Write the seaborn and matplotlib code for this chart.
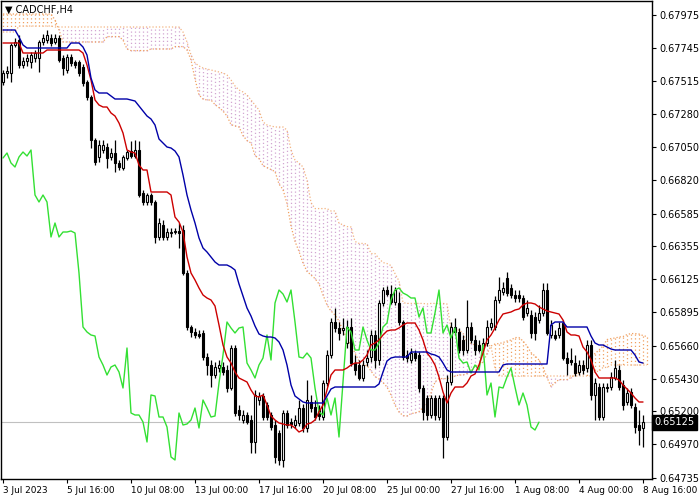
import numpy as np
import matplotlib
matplotlib.use("Agg")
import matplotlib.pyplot as plt
import seaborn as sns

# CADCHF H4 candles, 3 Jul 2023 00:00 .. 8 Aug 2023 16:00 (one value per bar)
opens = [
    0.67506, 0.67569, 0.67569, 0.67765, 0.67800, 0.67625, 0.67653, 0.67646, 0.67674, 0.67674,
    0.67786, 0.67800, 0.67814, 0.67786, 0.67814, 0.67674, 0.67590, 0.67681, 0.67646, 0.67646,
    0.67611, 0.67506, 0.67401, 0.67100, 0.66981, 0.67030, 0.67051, 0.66981, 0.67009, 0.66939,
    0.66904, 0.66974, 0.67023, 0.66988, 0.67030, 0.66729, 0.66666, 0.66715, 0.66666, 0.66421,
    0.66505, 0.66421, 0.66449, 0.66456, 0.66463, 0.66470, 0.66169, 0.65791, 0.65756, 0.65742,
    0.65749, 0.65581, 0.65525, 0.65455, 0.65504, 0.65511, 0.65490, 0.65364, 0.65644, 0.65210,
    0.65140, 0.65175, 0.65140, 0.64986, 0.65280, 0.65308, 0.65245, 0.65175, 0.65105, 0.65049,
    0.64860, 0.65189, 0.65126, 0.65105, 0.65119, 0.65224, 0.65084, 0.65266, 0.65231, 0.65210,
    0.65161, 0.65399, 0.65595, 0.65826, 0.65784, 0.65770, 0.65679, 0.65791, 0.65539, 0.65525,
    0.65434, 0.65546, 0.65581, 0.65735, 0.65560, 0.65959, 0.66050, 0.66022, 0.65966, 0.65959,
    0.65826, 0.65595, 0.65560, 0.65609, 0.65595, 0.65364, 0.65294, 0.65175, 0.65294, 0.65161,
    0.65294, 0.65021, 0.65406, 0.65791, 0.65756, 0.65700, 0.65630, 0.65791, 0.65700, 0.65665,
    0.65644, 0.65679, 0.65791, 0.65791, 0.65980, 0.66036, 0.66134, 0.66064, 0.66015, 0.66015,
    0.65994, 0.65889, 0.65875, 0.65861, 0.65840, 0.65889, 0.66050, 0.65735, 0.65735, 0.65735,
    0.65819, 0.65574, 0.65560, 0.65539, 0.65476, 0.65525, 0.65504, 0.65665, 0.65315, 0.65371,
    0.65161, 0.65371, 0.65371, 0.65434, 0.65490, 0.65385, 0.65266, 0.65336, 0.65231, 0.65105,
    0.65084,
]
closes = [
    0.67569, 0.67583, 0.67765, 0.67786, 0.67625, 0.67653, 0.67674, 0.67695, 0.67709, 0.67786,
    0.67814, 0.67835, 0.67779, 0.67814, 0.67660, 0.67604, 0.67681, 0.67639, 0.67625, 0.67569,
    0.67499, 0.67401, 0.67100, 0.66946, 0.67065, 0.67065, 0.66974, 0.67009, 0.66939, 0.66911,
    0.66981, 0.67016, 0.66988, 0.67030, 0.66715, 0.66666, 0.66715, 0.66666, 0.66421, 0.66519,
    0.66421, 0.66456, 0.66456, 0.66463, 0.66449, 0.66169, 0.65791, 0.65756, 0.65735, 0.65728,
    0.65581, 0.65525, 0.65455, 0.65511, 0.65525, 0.65476, 0.65364, 0.65644, 0.65189, 0.65175,
    0.65175, 0.65126, 0.64986, 0.65315, 0.65308, 0.65161, 0.65161, 0.65091, 0.64881, 0.64860,
    0.65189, 0.65105, 0.65112, 0.65140, 0.65224, 0.65084, 0.65280, 0.65224, 0.65161, 0.65168,
    0.65399, 0.65595, 0.65826, 0.65784, 0.65749, 0.65784, 0.65791, 0.65539, 0.65490, 0.65434,
    0.65525, 0.65574, 0.65735, 0.65560, 0.65959, 0.66050, 0.66022, 0.65966, 0.66050, 0.65826,
    0.65581, 0.65574, 0.65609, 0.65574, 0.65364, 0.65196, 0.65175, 0.65294, 0.65175, 0.65294,
    0.65021, 0.65406, 0.65791, 0.65756, 0.65630, 0.65630, 0.65791, 0.65700, 0.65630, 0.65630,
    0.65679, 0.65791, 0.65819, 0.65980, 0.66050, 0.66064, 0.66029, 0.66015, 0.65994, 0.65994,
    0.65861, 0.65924, 0.65749, 0.65749, 0.65889, 0.66050, 0.65749, 0.65805, 0.65714, 0.65784,
    0.65574, 0.65539, 0.65546, 0.65469, 0.65525, 0.65490, 0.65665, 0.65315, 0.65399, 0.65161,
    0.65371, 0.65364, 0.65441, 0.65504, 0.65371, 0.65245, 0.65329, 0.65245, 0.65091, 0.65070,
    0.65125,
]
highs = [
    0.67590, 0.67618, 0.67779, 0.67814, 0.67835, 0.67681, 0.67702, 0.67716, 0.67730, 0.67800,
    0.67842, 0.67870, 0.67842, 0.67842, 0.67835, 0.67695, 0.67702, 0.67702, 0.67660, 0.67660,
    0.67632, 0.67520, 0.67415, 0.67114, 0.67100, 0.67100, 0.67079, 0.67044, 0.67100, 0.66960,
    0.66995, 0.67030, 0.67093, 0.67100, 0.67093, 0.66750, 0.66729, 0.66729, 0.66680, 0.66554,
    0.66540, 0.66484, 0.66484, 0.66484, 0.66519, 0.66505, 0.66190, 0.65805, 0.65784, 0.65770,
    0.65770, 0.65609, 0.65560, 0.65546, 0.65560, 0.65546, 0.65525, 0.65665, 0.65665, 0.65245,
    0.65210, 0.65196, 0.65175, 0.65350, 0.65336, 0.65329, 0.65266, 0.65196, 0.65140, 0.65070,
    0.65210, 0.65210, 0.65154, 0.65175, 0.65280, 0.65252, 0.65420, 0.65315, 0.65280, 0.65245,
    0.65420, 0.65630, 0.65854, 0.65924, 0.65826, 0.65854, 0.65840, 0.65854, 0.65595, 0.65560,
    0.65560, 0.65630, 0.65770, 0.65770, 0.65980, 0.66071, 0.66078, 0.66085, 0.66071, 0.66036,
    0.65840, 0.65630, 0.65644, 0.65630, 0.65616, 0.65385, 0.65315, 0.65315, 0.65315, 0.65315,
    0.65315, 0.65455, 0.65826, 0.65854, 0.65784, 0.65735, 0.65980, 0.65826, 0.65735, 0.65700,
    0.65714, 0.65840, 0.65854, 0.66008, 0.66141, 0.66106, 0.66176, 0.66092, 0.66050, 0.66050,
    0.66015, 0.65980, 0.65910, 0.65896, 0.65945, 0.66099, 0.66099, 0.65840, 0.65770, 0.65826,
    0.65840, 0.65616, 0.65644, 0.65595, 0.65560, 0.65560, 0.65700, 0.65700, 0.65434, 0.65399,
    0.65399, 0.65399, 0.65476, 0.65560, 0.65525, 0.65420, 0.65364, 0.65364, 0.65259, 0.65210,
    0.65175,
]
lows = [
    0.67485, 0.67534, 0.67506, 0.67751, 0.67604, 0.67604, 0.67618, 0.67604, 0.67646, 0.67576,
    0.67765, 0.67779, 0.67758, 0.67772, 0.67646, 0.67555, 0.67569, 0.67618, 0.67604, 0.67548,
    0.67478, 0.67380, 0.67044, 0.66925, 0.66946, 0.67009, 0.66904, 0.66960, 0.66876, 0.66890,
    0.66890, 0.66960, 0.66974, 0.66974, 0.66701, 0.66645, 0.66645, 0.66645, 0.66379, 0.66400,
    0.66400, 0.66400, 0.66421, 0.66442, 0.66344, 0.66155, 0.65770, 0.65721, 0.65714, 0.65714,
    0.65560, 0.65455, 0.65371, 0.65434, 0.65476, 0.65455, 0.65336, 0.65350, 0.65168, 0.65140,
    0.65119, 0.65112, 0.64909, 0.64909, 0.65245, 0.65140, 0.65140, 0.65070, 0.64839, 0.64825,
    0.64811, 0.65084, 0.65084, 0.65084, 0.65098, 0.65056, 0.65056, 0.65196, 0.65140, 0.65140,
    0.65140, 0.65378, 0.65574, 0.65756, 0.65700, 0.65735, 0.65644, 0.65518, 0.65455, 0.65420,
    0.65413, 0.65518, 0.65546, 0.65504, 0.65525, 0.65938, 0.66008, 0.65952, 0.65945, 0.65805,
    0.65560, 0.65546, 0.65539, 0.65553, 0.65336, 0.65140, 0.65140, 0.65154, 0.65140, 0.65140,
    0.64874, 0.65000, 0.65385, 0.65735, 0.65609, 0.65595, 0.65609, 0.65679, 0.65595, 0.65616,
    0.65623, 0.65658, 0.65770, 0.65770, 0.65959, 0.66015, 0.66008, 0.65994, 0.65966, 0.65966,
    0.65840, 0.65868, 0.65714, 0.65700, 0.65819, 0.65868, 0.65735, 0.65714, 0.65700, 0.65714,
    0.65560, 0.65455, 0.65525, 0.65448, 0.65455, 0.65462, 0.65476, 0.65280, 0.65140, 0.65140,
    0.65140, 0.65336, 0.65350, 0.65420, 0.65350, 0.65210, 0.65245, 0.65224, 0.65049, 0.64965,
    0.64951,
]

# Ichimoku lines
tenkan = [
    0.67779, 0.67779, 0.67779, 0.67779, 0.67779, 0.67709, 0.67709, 0.67709, 0.67709, 0.67709,
    0.67709, 0.67730, 0.67730, 0.67730, 0.67730, 0.67730, 0.67730, 0.67730, 0.67730, 0.67730,
    0.67709, 0.67625, 0.67520, 0.67380, 0.67345, 0.67331, 0.67331, 0.67289, 0.67268, 0.67219,
    0.67149, 0.67030, 0.67016, 0.67009, 0.66925, 0.66890, 0.66890, 0.66736, 0.66736, 0.66736,
    0.66736, 0.66736, 0.66715, 0.66561, 0.66526, 0.66456, 0.66281, 0.66169, 0.66120, 0.66064,
    0.66015, 0.65994, 0.65980, 0.65938, 0.65805, 0.65665, 0.65581, 0.65539, 0.65476, 0.65434,
    0.65420, 0.65406, 0.65350, 0.65308, 0.65301, 0.65315, 0.65245, 0.65168, 0.65140, 0.65119,
    0.65112, 0.65105, 0.65105, 0.65084, 0.65056, 0.65070, 0.65112, 0.65119, 0.65140, 0.65196,
    0.65245, 0.65350, 0.65455, 0.65490, 0.65490, 0.65490, 0.65504, 0.65525, 0.65539, 0.65539,
    0.65560, 0.65595, 0.65665, 0.65679, 0.65700, 0.65735, 0.65763, 0.65770, 0.65770, 0.65784,
    0.65805, 0.65819, 0.65819, 0.65819, 0.65770, 0.65700, 0.65609, 0.65574, 0.65525, 0.65441,
    0.65336, 0.65259, 0.65329, 0.65371, 0.65371, 0.65371, 0.65399, 0.65448, 0.65462, 0.65525,
    0.65609, 0.65700, 0.65735, 0.65784, 0.65840, 0.65882, 0.65889, 0.65896, 0.65910, 0.65917,
    0.65945, 0.65959, 0.65959, 0.65952, 0.65931, 0.65917, 0.65903, 0.65896, 0.65889, 0.65882,
    0.65840, 0.65756, 0.65735, 0.65735, 0.65728, 0.65651, 0.65616, 0.65560, 0.65476, 0.65434,
    0.65434, 0.65434, 0.65434, 0.65434, 0.65420, 0.65385, 0.65357, 0.65329, 0.65294, 0.65266,
    0.65266,
]
kijun = [
    0.67870, 0.67870, 0.67870, 0.67870, 0.67821, 0.67765, 0.67744, 0.67744, 0.67744, 0.67744,
    0.67744, 0.67744, 0.67744, 0.67744, 0.67744, 0.67744, 0.67744, 0.67779, 0.67779, 0.67779,
    0.67751, 0.67695, 0.67534, 0.67450, 0.67429, 0.67429, 0.67429, 0.67408, 0.67387, 0.67387,
    0.67387, 0.67387, 0.67380, 0.67373, 0.67338, 0.67303, 0.67268, 0.67247, 0.67205, 0.67107,
    0.67079, 0.67051, 0.67044, 0.67023, 0.66981, 0.66855, 0.66715, 0.66610, 0.66519, 0.66414,
    0.66344, 0.66316, 0.66281, 0.66246, 0.66225, 0.66225, 0.66225, 0.66211, 0.66190, 0.66092,
    0.66008, 0.65924, 0.65868, 0.65798, 0.65742, 0.65728, 0.65721, 0.65721, 0.65714, 0.65686,
    0.65630, 0.65525, 0.65385, 0.65308, 0.65287, 0.65266, 0.65259, 0.65259, 0.65259, 0.65259,
    0.65259, 0.65308, 0.65357, 0.65371, 0.65371, 0.65371, 0.65371, 0.65371, 0.65371, 0.65371,
    0.65371, 0.65371, 0.65371, 0.65371, 0.65392, 0.65476, 0.65553, 0.65574, 0.65581, 0.65581,
    0.65581, 0.65581, 0.65616, 0.65616, 0.65616, 0.65616, 0.65616, 0.65602, 0.65595, 0.65581,
    0.65539, 0.65490, 0.65476, 0.65476, 0.65476, 0.65476, 0.65476, 0.65476, 0.65476, 0.65476,
    0.65476, 0.65476, 0.65476, 0.65476, 0.65476, 0.65525, 0.65532, 0.65532, 0.65532, 0.65532,
    0.65532, 0.65532, 0.65532, 0.65532, 0.65532, 0.65532, 0.65532, 0.65805, 0.65826, 0.65826,
    0.65826, 0.65791, 0.65791, 0.65791, 0.65791, 0.65791, 0.65791, 0.65728, 0.65679, 0.65665,
    0.65665, 0.65651, 0.65637, 0.65630, 0.65630, 0.65630, 0.65630, 0.65630, 0.65595, 0.65546,
    0.65539,
]
# cloud spans run one bar past the last candle
span_a = [
    0.67982, 0.67982, 0.67982, 0.67982, 0.67982, 0.67982, 0.67982, 0.67982, 0.67982, 0.67982,
    0.67982, 0.67982, 0.67982, 0.67940, 0.67870, 0.67786, 0.67786, 0.67786, 0.67786, 0.67786,
    0.67786, 0.67786, 0.67786, 0.67786, 0.67786, 0.67786, 0.67824, 0.67824, 0.67824, 0.67824,
    0.67800, 0.67737, 0.67726, 0.67726, 0.67726, 0.67726, 0.67726, 0.67737, 0.67737, 0.67737,
    0.67737, 0.67737, 0.67737, 0.67754, 0.67754, 0.67754, 0.67730, 0.67660, 0.67527, 0.67415,
    0.67387, 0.67380, 0.67380, 0.67348, 0.67327, 0.67303, 0.67268, 0.67208, 0.67198, 0.67191,
    0.67131, 0.67096, 0.67079, 0.66991, 0.66970, 0.66921, 0.66907, 0.66893, 0.66879, 0.66792,
    0.66753, 0.66655, 0.66498, 0.66390, 0.66320, 0.66239, 0.66180, 0.66155, 0.66130, 0.66092,
    0.66015, 0.65945, 0.65903, 0.65875, 0.65833, 0.65763, 0.65714, 0.65665, 0.65609, 0.65553,
    0.65522, 0.65522, 0.65483, 0.65444, 0.65427, 0.65402, 0.65371, 0.65315, 0.65245, 0.65196,
    0.65171, 0.65168, 0.65185, 0.65189, 0.65199, 0.65227, 0.65252, 0.65329, 0.65406, 0.65430,
    0.65430, 0.65430, 0.65437, 0.65448, 0.65455, 0.65455, 0.65465, 0.65483, 0.65518, 0.65525,
    0.65546, 0.65605, 0.65658, 0.65672, 0.65675, 0.65682, 0.65693, 0.65700, 0.65717, 0.65717,
    0.65693, 0.65658, 0.65612, 0.65588, 0.65560, 0.65511, 0.65437, 0.65374, 0.65402, 0.65423,
    0.65423, 0.65423, 0.65437, 0.65462, 0.65469, 0.65500, 0.65542, 0.65588, 0.65605, 0.65630,
    0.65658, 0.65703, 0.65710, 0.65714, 0.65721, 0.65724, 0.65738, 0.65745, 0.65745, 0.65742,
    0.65731, 0.65724,
]
span_b = [
    0.67856, 0.67856, 0.67856, 0.67856, 0.67898, 0.67898, 0.67898, 0.67898, 0.67898, 0.67898,
    0.67898, 0.67898, 0.67898, 0.67891, 0.67891, 0.67891, 0.67891, 0.67891, 0.67891, 0.67891,
    0.67891, 0.67891, 0.67891, 0.67891, 0.67891, 0.67891, 0.67891, 0.67891, 0.67891, 0.67891,
    0.67891, 0.67891, 0.67891, 0.67891, 0.67891, 0.67891, 0.67891, 0.67891, 0.67891, 0.67891,
    0.67891, 0.67891, 0.67891, 0.67891, 0.67891, 0.67856, 0.67786, 0.67695, 0.67639, 0.67618,
    0.67604, 0.67597, 0.67590, 0.67583, 0.67576, 0.67569, 0.67555, 0.67520, 0.67478, 0.67450,
    0.67436, 0.67415, 0.67380, 0.67345, 0.67310, 0.67226, 0.67205, 0.67198, 0.67191, 0.67191,
    0.67191, 0.67170, 0.67030, 0.66960, 0.66939, 0.66911, 0.66820, 0.66662, 0.66620, 0.66620,
    0.66620, 0.66620, 0.66603, 0.66603, 0.66519, 0.66505, 0.66494, 0.66491, 0.66390, 0.66376,
    0.66376, 0.66372, 0.66305, 0.66305, 0.66270, 0.66242, 0.66235, 0.66221, 0.66165, 0.66113,
    0.65962, 0.65956, 0.65956, 0.65956, 0.65956, 0.65956, 0.65952, 0.65956, 0.65956, 0.65956,
    0.65956, 0.65952, 0.65780, 0.65770, 0.65770, 0.65746, 0.65683, 0.65676, 0.65665, 0.65665,
    0.65665, 0.65665, 0.65658, 0.65500, 0.65448, 0.65448, 0.65448, 0.65448, 0.65448, 0.65448,
    0.65448, 0.65448, 0.65448, 0.65448, 0.65448, 0.65448, 0.65448, 0.65448, 0.65448, 0.65448,
    0.65448, 0.65448, 0.65448, 0.65448, 0.65448, 0.65448, 0.65448, 0.65448, 0.65480, 0.65480,
    0.65508, 0.65508, 0.65525, 0.65525, 0.65525, 0.65525, 0.65525, 0.65525, 0.65525, 0.65525,
    0.65525, 0.65525,
]
CHIKOU_SHIFT = 26  # lagging span = close plotted 26 bars back

date_labels = ["3 Jul 2023", "5 Jul 16:00", "10 Jul 08:00", "13 Jul 00:00", "17 Jul 16:00",
               "20 Jul 08:00", "25 Jul 00:00", "27 Jul 16:00", "1 Aug 08:00", "4 Aug 00:00",
               "8 Aug 16:00"]
date_bars = [0, 16, 32, 48, 64, 80, 96, 112, 128, 144, 160]
price_labels = ["0.67975", "0.67745", "0.67515", "0.67280", "0.67050", "0.66820", "0.66585",
                "0.66355", "0.66125", "0.65895", "0.65660", "0.65430", "0.65200", "0.64970",
                "0.64735"]
last_price = 0.65125

sns.set_theme(style="white")
plt.rcParams["font.family"] = ["DejaVu Sans"]

SANDY = "#F0A060"
THISTLE = "#D2A6D2"

o = np.array(opens); c = np.array(closes)
h = np.array(highs); l = np.array(lows)
bars = np.arange(len(c))
a = np.array(span_a); b = np.array(span_b)
cb = np.arange(len(a))

fig = plt.figure(figsize=(7, 5), dpi=100, facecolor="white")
ax = fig.add_axes([1 / 700, 21 / 500, 651 / 700, 478 / 500])
ax.set_facecolor("white")

# kumo: dotted vertical hatching between the two spans
up = a >= b
ax.vlines(cb, a, b, colors=np.where(up, SANDY, THISTLE), linestyles=(0, (1, 2)),
          linewidth=0.9, zorder=1)
ax.plot(cb, a, color=SANDY, linestyle=(0, (1, 1.6)), linewidth=0.9, zorder=1.2)
ax.plot(cb, b, color=SANDY, linestyle=(0, (1, 1.6)), linewidth=0.9, zorder=1.2, alpha=0.8)

ax.axhline(last_price, color="#C0C0C0", linewidth=0.8, zorder=1.5)

# candles
ax.vlines(bars, l, h, color="black", linewidth=0.9, zorder=2.9)
bull = c >= o
body = np.maximum(np.abs(c - o), 0.00003)
ax.bar(bars, body, bottom=np.minimum(o, c), width=0.65,
       color=np.where(bull, "white", "black"), edgecolor="black", linewidth=0.8, zorder=3)

# ichimoku lines
sns.lineplot(x=bars[:len(c) - CHIKOU_SHIFT], y=c[CHIKOU_SHIFT:], ax=ax,
             color="#33E033", linewidth=1, zorder=4)
sns.lineplot(x=bars, y=np.array(tenkan), ax=ax, color="#CC0000", linewidth=1, zorder=4)
sns.lineplot(x=bars, y=np.array(kijun), ax=ax, color="#0000A8", linewidth=1, zorder=4)

ax.set_xlim(-0.5, 162.25)
ax.set_ylim(0.64727, 0.68073)

ax.set_xticks(date_bars)
ax.set_xticklabels(date_labels, ha="left", fontsize=6.4)
ax.yaxis.tick_right()
ax.set_yticks([float(p) for p in price_labels])
ax.set_yticklabels(price_labels, fontsize=7)
ax.tick_params(axis="both", direction="out", length=3, width=0.8, pad=2, colors="black")
ax.tick_params(axis="x", bottom=True)
ax.tick_params(axis="y", right=True, left=False)
ax.set_xlabel("")
ax.set_ylabel("")
for s in ax.spines.values():
    s.set_color("black")
    s.set_linewidth(1)
    s.set_visible(True)

ax.text(0.006, 0.981, "▼ CADCHF,H4", transform=ax.transAxes, ha="left", va="center",
        fontsize=7, color="black", zorder=10)
ax.text(1.003, last_price, "0.65125", transform=ax.get_yaxis_transform(), ha="left",
        va="center", fontsize=7, color="white", clip_on=False, zorder=10,
        bbox=dict(boxstyle="square,pad=0.25", fc="black", ec="black"))

fig.savefig("out.png", dpi=100, facecolor="white")
